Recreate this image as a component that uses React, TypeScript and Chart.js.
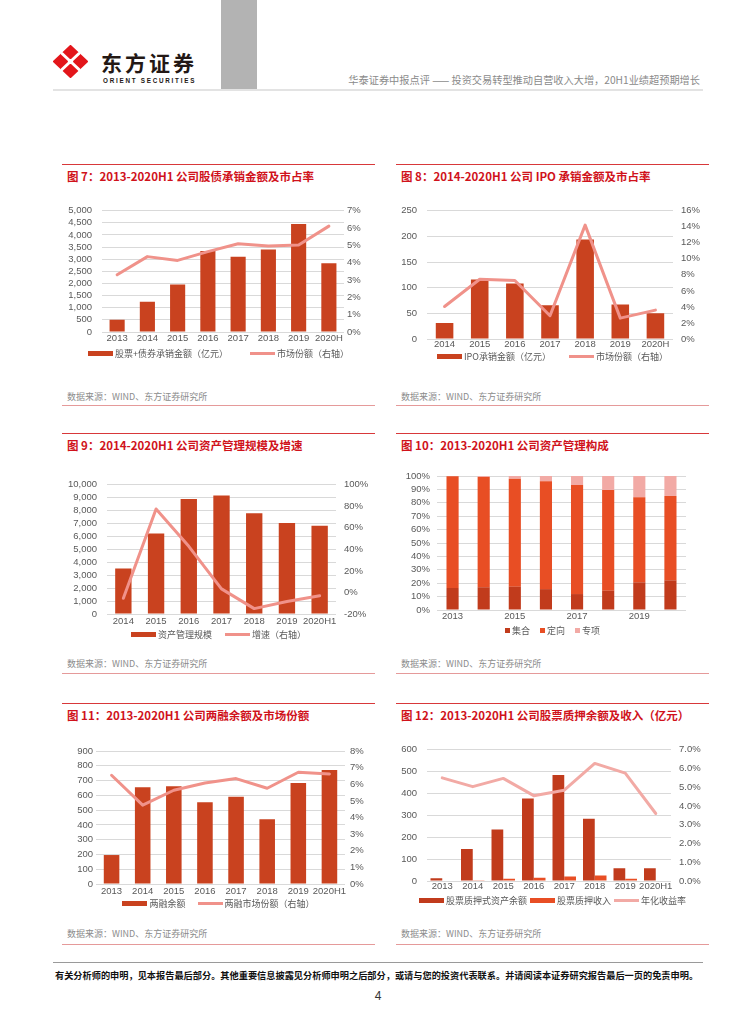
import React, { useEffect, useRef } from 'react';
import { Chart, registerables } from 'chart.js';

Chart.register(...registerables);

// ---------- data ----------
// Fig 7
const years7 = ['2013', '2014', '2015', '2016', '2017', '2018', '2019', '2020H'];
const underwriting7 = [500, 1250, 1960, 3340, 3100, 3400, 4450, 2830];
const share7 = [3.3, 4.35, 4.13, 4.64, 5.09, 4.96, 5.02, 6.11];
const legend7 = ['股票+债券承销金额（亿元）', '市场份额（右轴）'];

// Fig 8
const years8 = ['2014', '2015', '2016', '2017', '2018', '2019', '2020H'];
const ipo8 = [31, 116, 108, 66, 194, 67, 50];
const share8 = [4.05, 7.45, 7.3, 2.9, 14.2, 2.6, 3.6];
const legend8 = ['IPO承销金额（亿元）', '市场份额（右轴）'];

// Fig 9
const years9 = ['2014', '2015', '2016', '2017', '2018', '2019', '2020H1'];
const aum9 = [3520, 6230, 8890, 9170, 7790, 7035, 6830];
const growth9 = [-5.4, 77.5, 42.8, 3.3, -15, -8.4, -3];
const legend9 = ['资产管理规模', '增速（右轴）'];

// Fig 10
const years10 = ['2013', '2014', '2015', '2016', '2017', '2018', '2019', '2020H1'];
const collective10 = [16.4, 17.0, 17.4, 15.6, 11.9, 14.4, 20.6, 22.1];
const targeted10 = [83.4, 82.3, 80.6, 80.4, 81.4, 75.2, 63.5, 63.0];
const special10 = [0.2, 0.7, 2.0, 4.0, 6.7, 10.4, 15.9, 14.9];
const legend10 = ['集合', '定向', '专项'];

// Fig 11
const years11 = ['2013', '2014', '2015', '2016', '2017', '2018', '2019', '2020H1'];
const margin11 = [196, 655, 661, 553, 590, 439, 684, 772];
const share11 = [6.54, 4.74, 5.64, 6.08, 6.34, 5.76, 6.72, 6.62];
const legend11 = ['两融余额', '两融市场份额（右轴）'];

// Fig 12
const years12 = ['2013', '2014', '2015', '2016', '2017', '2018', '2019', '2020H1'];
const pledge12 = [12, 146, 235, 377, 484, 284, 58, 58];
const income12 = [0, 3, 10, 15, 21, 25, 10, 0];
const yield12 = [5.5, 5.03, 5.47, 4.55, 4.84, 6.27, 5.75, 3.6];
const legend12 = ['股票质押式资产余额', '股票质押收入', '年化收益率'];

// ---------- styles ----------
const FONT = "'Liberation Sans', 'Noto Sans CJK SC', sans-serif";
const CJK = "'Noto Sans CJK SC', 'Liberation Sans', sans-serif";
const TICK = '#595959';
const GRID = '#d9d9d9';
const BAR = '#c9421f';
const LINE = '#f0928a';
const ORANGE = '#e84e24';
const DARK = '#c13b1c';
const PINK = '#f2aaa5';
const TITLE_RED = '#d0121b';
const tickFont = { family: FONT, size: 9.5 };

const thousands = (v: number) => v.toLocaleString('en-US');
const pct0 = (v: number) => `${v}%`;
const pct1 = (v: number) => `${v.toFixed(1)}%`;

function leftAxis(min: number, max: number, step: number, width: number, pad: number, fmt: (v: number) => string) {
  return {
    position: 'left', min, max,
    ticks: { stepSize: step, autoSkip: false, padding: pad, color: TICK, font: tickFont, callback: (v: any) => fmt(Number(v)) },
    grid: { display: true, color: GRID, lineWidth: 1, drawTicks: false },
    border: { display: false },
    afterFit: (s: any) => { s.width = width; },
  };
}
function rightAxis(min: number, max: number, step: number, width: number, pad: number, fmt: (v: number) => string) {
  return {
    position: 'right', min, max,
    ticks: { stepSize: step, autoSkip: false, padding: pad, color: TICK, font: tickFont, callback: (v: any) => fmt(Number(v)) },
    grid: { display: false, drawTicks: false },
    border: { display: false },
    afterFit: (s: any) => { s.width = width; },
  };
}
function xAxis(labels: string[], pad: number, stacked = false, every = 1) {
  return {
    type: 'category', offset: true, stacked,
    grid: { display: false, drawTicks: false },
    border: { display: false },
    ticks: {
      autoSkip: false, maxRotation: 0, minRotation: 0, padding: pad, color: TICK, font: tickFont,
      callback: (_v: any, i: number) => (i % every === 0 ? labels[i] : ''),
    },
    afterFit: (s: any) => { s.height = 16; },
  };
}

type Geo = { x: number; y: number; w: number; h: number; padTop: number; padRight?: number };

function baseOptions(geo: Geo, scales: any) {
  return {
    responsive: false,
    animation: false,
    devicePixelRatio: 1,
    layout: { padding: { top: geo.padTop, right: geo.padRight ?? 0, left: 0, bottom: 0 } },
    plugins: { legend: { display: false }, tooltip: { enabled: false }, title: { display: false } },
    scales,
  };
}

function barDs(label: string, data: number[], color: string, axis = 'y', bp = 0.5, cp = 1) {
  return { type: 'bar', label, data, backgroundColor: color, borderWidth: 0, yAxisID: axis, order: 2, barPercentage: bp, categoryPercentage: cp };
}
function lineDs(label: string, data: number[], color: string) {
  return {
    type: 'line', label, data, borderColor: color, backgroundColor: color, borderWidth: 3,
    pointRadius: 0, tension: 0, yAxisID: 'y1', order: 1, borderJoinStyle: 'round', borderCapStyle: 'round',
  };
}

function ChartCanvas({ geo, build }: { geo: Geo; build: () => any }) {
  const ref = useRef<HTMLCanvasElement>(null);
  useEffect(() => {
    const chart = new Chart(ref.current as HTMLCanvasElement, build());
    return () => chart.destroy();
  }, []);
  return (
    <canvas
      ref={ref}
      width={geo.w}
      height={geo.h}
      style={{ position: 'absolute', left: geo.x, top: geo.y, width: geo.w, height: geo.h }}
    />
  );
}

// ---------- chart geometries ----------
const geo7: Geo = { x: 63, y: 195, w: 312, h: 153, padTop: 13 };
const geo8: Geo = { x: 397, y: 195, w: 312, h: 160, padTop: 13 };
const geo9: Geo = { x: 63, y: 469, w: 312, h: 161, padTop: 13 };
const geo10: Geo = { x: 397, y: 463, w: 312, h: 163, padTop: 13, padRight: 23 };
const geo11: Geo = { x: 63, y: 738, w: 312, h: 162, padTop: 13 };
const geo12: Geo = { x: 397, y: 734, w: 312, h: 163, padTop: 13 };

const build7 = () => ({
  type: 'bar',
  data: { labels: years7, datasets: [barDs(legend7[0], underwriting7, BAR), lineDs(legend7[1], share7, LINE)] },
  options: baseOptions(geo7, {
    x: xAxis(years7, 1),
    y: leftAxis(0, 5000, 500, 39, 10, thousands),
    y1: rightAxis(0, 7, 1, 31, 3, pct0),
  }),
});
const build8 = () => ({
  type: 'bar',
  data: { labels: years8, datasets: [barDs(legend8[0], ipo8, BAR), lineDs(legend8[1], share8, LINE)] },
  options: baseOptions(geo8, {
    x: xAxis(years8, 0),
    y: leftAxis(0, 250, 50, 30, 10, (v) => String(v)),
    y1: rightAxis(0, 16, 2, 36, 8, pct0),
  }),
});
const build9 = () => ({
  type: 'bar',
  data: { labels: years9, datasets: [barDs(legend9[0], aum9, BAR), lineDs(legend9[1], growth9, LINE)] },
  options: baseOptions(geo9, {
    x: xAxis(years9, 2),
    y: leftAxis(0, 10000, 1000, 44, 10, thousands),
    y1: rightAxis(-20, 100, 20, 39, 8, pct0),
  }),
});
const build10 = () => ({
  type: 'bar',
  data: {
    labels: years10,
    datasets: [
      barDs(legend10[0], collective10, DARK, 'y', 0.39, 1),
      barDs(legend10[1], targeted10, ORANGE, 'y', 0.39, 1),
      barDs(legend10[2], special10, PINK, 'y', 0.39, 1),
    ],
  },
  options: baseOptions(geo10, {
    x: xAxis(years10, 1, true, 2),
    y: { ...leftAxis(0, 100, 10, 40, 7, pct0), stacked: true },
  }),
});
const build11 = () => ({
  type: 'bar',
  data: { labels: years11, datasets: [barDs(legend11[0], margin11, BAR), lineDs(legend11[1], share11, LINE)] },
  options: baseOptions(geo11, {
    x: xAxis(years11, 2),
    y: leftAxis(0, 900, 100, 33, 3, (v) => String(v)),
    y1: rightAxis(0, 8, 1, 30, 5, pct0),
  }),
});
const build12 = () => ({
  type: 'bar',
  data: {
    labels: years12,
    datasets: [
      barDs(legend12[0], pledge12, DARK, 'y', 1, 0.77),
      barDs(legend12[1], income12, ORANGE, 'y', 1, 0.77),
      lineDs(legend12[2], yield12, PINK),
    ],
  },
  options: baseOptions(geo12, {
    x: xAxis(years12, 0),
    y: leftAxis(0, 600, 100, 30, 10, (v) => String(v)),
    y1: rightAxis(0, 7, 1, 38, 8, pct1),
  }),
});

// ---------- html helpers ----------
function Txt(props: {
  x: number; y: number; size: number; color?: string; bold?: boolean; family?: string;
  children: React.ReactNode; width?: number; align?: 'left' | 'right' | 'center'; ls?: number;
}) {
  const { x, y, size, color = '#333', bold, family = CJK, children, width, align = 'left', ls } = props;
  const lh = Math.round(size * 1.4);
  const left = align === 'right' && width ? x - width : align === 'center' && width ? x - width / 2 : x;
  return (
    <div
      style={{
        position: 'absolute', left, top: y - lh / 2, fontSize: size, lineHeight: `${lh}px`, color,
        fontWeight: bold ? 700 : 400, fontFamily: family, whiteSpace: 'nowrap', width, textAlign: align,
        letterSpacing: ls,
      }}
    >
      {children}
    </div>
  );
}

function HLine({ x, y, w, h = 1, color }: { x: number; y: number; w: number; h?: number; color: string }) {
  return <div style={{ position: 'absolute', left: x, top: y, width: w, height: h, background: color }} />;
}

type LegItem = { label: string; color: string; kind: 'bar' | 'line' | 'square' };
function Legend({ x, w, y, items, gap }: { x: number; w: number; y: number; items: LegItem[]; gap: number }) {
  return (
    <div
      style={{
        position: 'absolute', left: x, top: y - 7, width: w, height: 14, display: 'flex',
        justifyContent: 'center', alignItems: 'center', gap, fontFamily: CJK, fontSize: 9, color: TICK,
        whiteSpace: 'nowrap',
      }}
    >
      {items.map((it) => (
        <div key={it.label} style={{ display: 'flex', alignItems: 'center', gap: 2 }}>
          <span
            style={{
              display: 'inline-block', background: it.color,
              width: it.kind === 'square' ? 5 : 25,
              height: it.kind === 'line' ? 3 : 5,
            }}
          />
          <span>{it.label}</span>
        </div>
      ))}
    </div>
  );
}

function Panel({ x, w, lineY, titleY, sourceY, bottomY, title }: {
  x: number; w: number; lineY: number; titleY: number; sourceY: number; bottomY: number; title: string;
}) {
  return (
    <>
      <HLine x={x} y={lineY} w={w} color="#d8383a" />
      <Txt x={x + 5} y={titleY} size={11.5} bold color={TITLE_RED}>{title}</Txt>
      <Txt x={x + 5} y={sourceY} size={9} color="#8c8c8c">数据来源：WIND、东方证券研究所</Txt>
      <HLine x={x} y={bottomY} w={w} color="#e59a9a" />
    </>
  );
}

function Logo() {
  return (
    <svg style={{ position: 'absolute', left: 53, top: 45 }} width={35} height={33} viewBox="0 0 35 33">
      <polygon points="17.5,1 34,16.5 17.5,32 1,16.5" fill="#e3161b" stroke="#e3161b" strokeWidth={2} strokeLinejoin="round" />
      <line x1="9" y1="8.5" x2="26" y2="24.5" stroke="#fff" strokeWidth={3} strokeLinecap="round" />
      <line x1="26" y1="8.5" x2="9" y2="24.5" stroke="#fff" strokeWidth={3} strokeLinecap="round" />
      <circle cx="17.5" cy="16.5" r="2.6" fill="#fff" />
    </svg>
  );
}

export default function App() {
  const L = 62;
  const R = 396;
  const PW = 313;
  return (
    <div style={{ position: 'absolute', left: 0, top: 0, width: 755, height: 1024, background: '#fff' }}>
      {/* header */}
      <div style={{ position: 'absolute', left: 221, top: 0, width: 36, height: 89, background: '#b3b3b3' }} />
      <Logo />
      <Txt x={101} y={62} size={21} bold color="#231815" ls={3}>东方证券</Txt>
      <Txt x={103} y={80.5} size={6.3} bold color="#231815" family={FONT} ls={1.75}>ORIENT SECURITIES</Txt>
      <Txt x={700} y={80} size={10.2} color="#8a8a8a" width={420} align="right">
        华泰证券中报点评 —— 投资交易转型推动自营收入大增，20H1业绩超预期增长
      </Txt>
      <HLine x={53} y={89} w={650} h={2} color="#e3e3e3" />

      {/* row 1 */}
      <Panel x={L} w={PW} lineY={164} titleY={176} sourceY={396} bottomY={405} title="图 7：2013-2020H1 公司股债承销金额及市占率" />
      <ChartCanvas geo={geo7} build={build7} />
      <Legend x={L} w={PW} y={353} gap={22} items={[
        { label: legend7[0], color: BAR, kind: 'bar' },
        { label: legend7[1], color: LINE, kind: 'line' },
      ]} />

      <Panel x={R} w={PW} lineY={164} titleY={176} sourceY={396} bottomY={405} title="图 8：2014-2020H1 公司 IPO 承销金额及市占率" />
      <ChartCanvas geo={geo8} build={build8} />
      <Legend x={R} w={PW} y={356} gap={18} items={[
        { label: legend8[0], color: BAR, kind: 'bar' },
        { label: legend8[1], color: LINE, kind: 'line' },
      ]} />

      {/* row 2 */}
      <Panel x={L} w={PW} lineY={433} titleY={445} sourceY={663} bottomY={673} title="图 9：2014-2020H1 公司资产管理规模及增速" />
      <ChartCanvas geo={geo9} build={build9} />
      <Legend x={L} w={PW} y={634} gap={13} items={[
        { label: legend9[0], color: BAR, kind: 'bar' },
        { label: legend9[1], color: LINE, kind: 'line' },
      ]} />

      <Panel x={R} w={PW} lineY={433} titleY={445} sourceY={663} bottomY={673} title="图 10：2013-2020H1 公司资产管理构成" />
      <ChartCanvas geo={geo10} build={build10} />
      <Legend x={R} w={PW} y={630} gap={10} items={[
        { label: legend10[0], color: DARK, kind: 'square' },
        { label: legend10[1], color: ORANGE, kind: 'square' },
        { label: legend10[2], color: PINK, kind: 'square' },
      ]} />

      {/* row 3 */}
      <Panel x={L} w={PW} lineY={703} titleY={715} sourceY={933} bottomY={944} title="图 11：2013-2020H1 公司两融余额及市场份额" />
      <ChartCanvas geo={geo11} build={build11} />
      <Legend x={L} w={PW} y={903} gap={12} items={[
        { label: legend11[0], color: BAR, kind: 'bar' },
        { label: legend11[1], color: LINE, kind: 'line' },
      ]} />

      <Panel x={R} w={PW} lineY={703} titleY={715} sourceY={933} bottomY={944} title="图 12：2013-2020H1 公司股票质押余额及收入（亿元）" />
      <ChartCanvas geo={geo12} build={build12} />
      <Legend x={R} w={PW} y={900} gap={3} items={[
        { label: legend12[0], color: DARK, kind: 'bar' },
        { label: legend12[1], color: ORANGE, kind: 'bar' },
        { label: legend12[2], color: PINK, kind: 'line' },
      ]} />

      {/* footer */}
      <HLine x={53} y={962} w={650} h={1} color="#9a9a9a" />
      <Txt x={55} y={975} size={9.2} bold color="#111">
        有关分析师的申明，见本报告最后部分。其他重要信息披露见分析师申明之后部分，或请与您的投资代表联系。并请阅读本证券研究报告最后一页的免责申明。
      </Txt>
      <Txt x={378} y={996} size={12} color="#333" family={FONT} width={20} align="center">4</Txt>
    </div>
  );
}
